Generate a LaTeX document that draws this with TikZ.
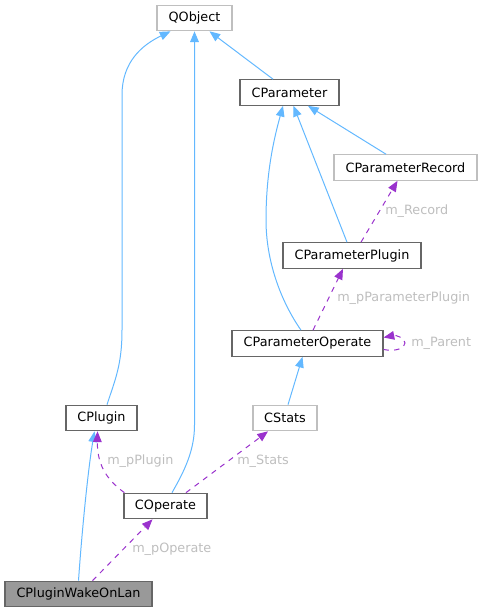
\documentclass[tikz,border=0pt]{standalone}
\usepackage{fontspec}
\setmainfont{DejaVu Sans}
\usepackage{tikz}
\usetikzlibrary{arrows.meta,calc}
\definecolor{boxdark}{HTML}{666666}
\definecolor{boxlight}{HTML}{BFBFBF}
\definecolor{boxfill}{HTML}{999999}
\definecolor{inhblue}{HTML}{63B8FF}
\definecolor{usepurple}{HTML}{9A32CD}
\definecolor{labelgray}{HTML}{BEBEBE}
\tikzset{
    cls/.style={
        draw=boxdark, fill=white, line width=0.9pt, inner sep=0pt,
        minimum height=19.1pt, font=\fontsize{9.6}{11}\selectfont
    },
    ext/.style={draw=boxlight},
    self/.style={fill=boxfill},
    inh/.style={
        draw=inhblue, line width=0.75pt,
        -{Triangle[length=8pt,width=6.5pt]}
    },
    use/.style={
        draw=usepurple, line width=0.75pt, dash pattern=on 4pt off 4pt,
        -{Triangle[length=8pt,width=6.5pt]}
    },
    lbl/.style={
        anchor=west, inner sep=0pt, text=labelgray,
        font=\fontsize{9.6}{11}\selectfont
    }
}
\newcommand{\classbox}[6] {
	\node[cls,#5,minimum width=#4*0.75pt] (#1) at (#2,#3) {#6};
}

\begin{document}
\begin{tikzpicture}[x=0.75pt,y=-0.75pt]
		\useasboundingbox (0,0) rectangle (482,612);

		% Classes
		\classbox{qobject}{194.5}{18}{75}{ext}{QObject}
		\classbox{cparam}{289.5}{92.5}{99}{}{CParameter}
		\classbox{cprecord}{405.5}{167.5}{143}{ext}{CParameterRecord}
		\classbox{cpplugin}{352}{255.5}{138}{}{CParameterPlugin}
		\classbox{cpoperate}{307.5}{343.5}{151}{}{CParameterOperate}
		\classbox{cplugin}{101.5}{418}{71}{}{CPlugin}
		\classbox{cstats}{285}{418}{64}{ext}{CStats}
		\classbox{coperate}{165.5}{506}{83}{}{COperate}
		\classbox{cwake}{78.5}{594}{147}{self}{CPluginWakeOnLan}

		% Inheritance
		\draw[inh] ($(cplugin.north)+(5.5,0)$) .. controls (115,380) and (122,365) .. (122,330)
			-- (122,95) .. controls (122,62) and (142,45) .. ($(qobject.south)+(-24,0)$);
		\draw[inh] ($(coperate.north)+(6.5,0)$) .. controls (185,470) and (194.5,450) .. (194.5,425)
			-- (qobject.south);
		\draw[inh] ($(cparam.north)+(-16.5,0)$) -- ($(qobject.south)+(15,0)$);
		\draw[inh] ($(cpoperate.north)+(-6.5,0)$) .. controls (280,300) and (266,260) .. (266,220)
			.. controls (266,170) and (275,135) .. ($(cparam.south)+(-6.5,0)$);
		\draw[inh] ($(cpplugin.north)+(-5,0)$) -- ($(cparam.south)+(4,0)$);
		\draw[inh] ($(cprecord.north)+(-19.5,0)$) -- ($(cparam.south)+(18.5,0)$);
		\draw[inh] ($(cstats.north)+(3,0)$) -- ($(cpoperate.south)+(-5,0)$);
		\draw[inh] (cwake.north) .. controls (82,530) and (88,470) .. ($(cplugin.south)+(-7,0)$);

		% Usage
		\draw[use] ($(cpplugin.north)+(9,0)$) -- ($(cprecord.south)+(-8,0)$);
		\node[lbl] (lrecord) at (385,211) {m\_Record};
		\draw[use] ($(cpoperate.north)+(5.5,0)$) -- ($(cpplugin.south)+(-9,0)$);
		\node[lbl] (lpplugin) at (337,298) {m\_pParameterPlugin};
		\draw[use] ($(cpoperate.east)+(0,6)$) .. controls (396,352) and (405,348) .. (405,343)
			.. controls (405,338) and (396,335) .. ($(cpoperate.east)+(0,-6)$);
		\node[lbl] (lparent) at (411,343) {m\_Parent};
		\draw[use] ($(coperate.north west)+(1,0)$) .. controls (110,482) and (97,468) .. ($(cplugin.south)+(-4,0)$);
		\node[lbl] (lplugin) at (107,461) {m\_pPlugin};
		\draw[use] ($(coperate.north)+(20.5,0)$) -- ($(cstats.south)+(-17,0)$);
		\node[lbl] (lstats) at (237,461) {m\_Stats};
		\draw[use] ($(cwake.north)+(14,0)$) -- ($(coperate.south)+(-13,0)$);
		\node[lbl] (loperate) at (132,549) {m\_pOperate};

	\end{tikzpicture}
\end{document}
